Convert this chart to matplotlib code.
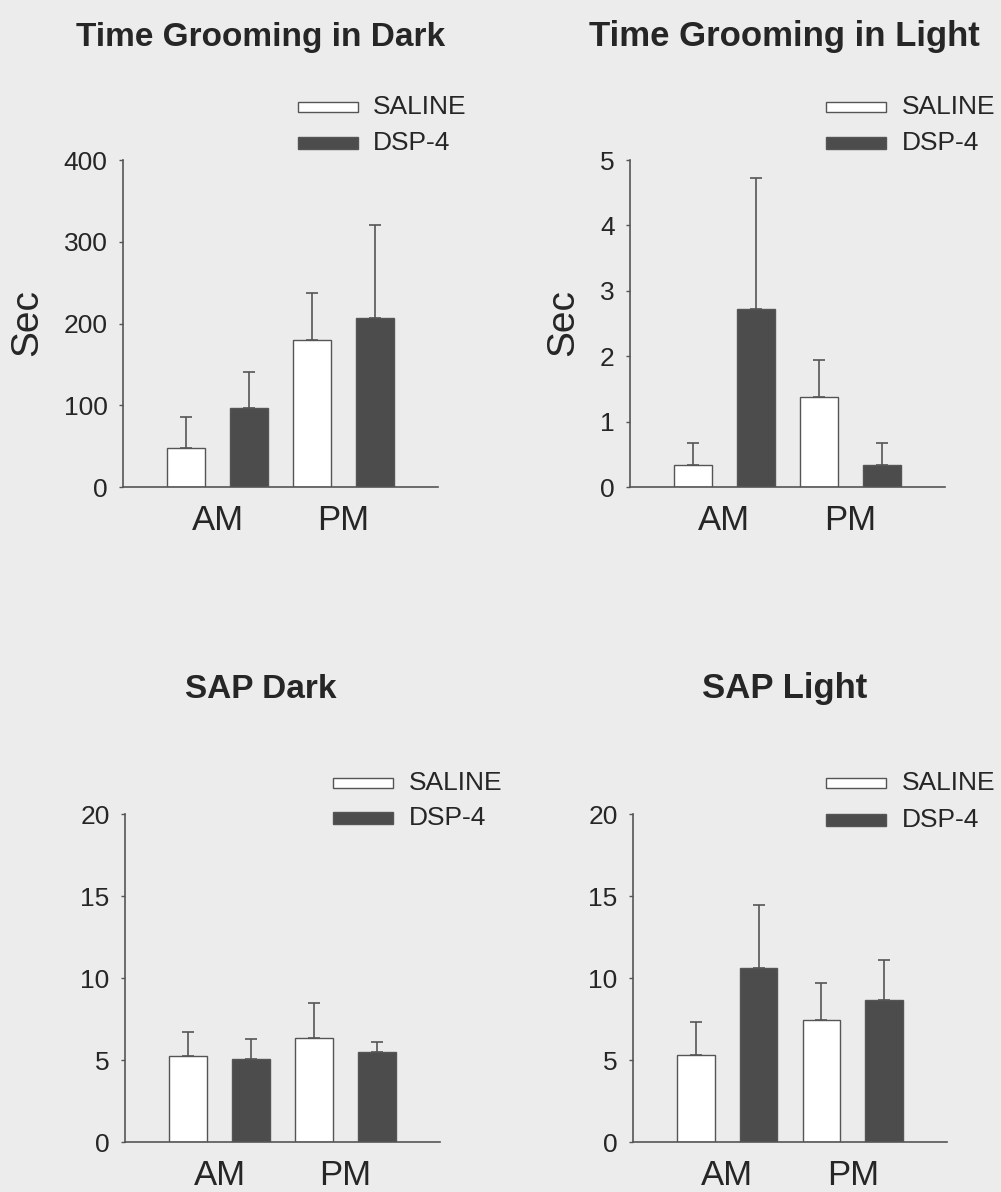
import matplotlib
matplotlib.use("Agg")
import matplotlib.pyplot as plt
from matplotlib.patches import Rectangle

plt.rcParams['font.family'] = ['Liberation Sans', 'DejaVu Sans']

# ---- data ----
groups = ["AM", "PM"]
series = ["SALINE", "DSP-4"]

titles = ["Time Grooming in Dark", "Time Grooming in Light", "SAP Dark", "SAP Light"]

# mean values: [saline AM, DSP-4 AM, saline PM, DSP-4 PM]
groom_dark_mean = [48, 97, 180, 207]
groom_dark_err = [38, 44, 57, 113]
groom_light_mean = [0.33, 2.72, 1.38, 0.33]
groom_light_err = [0.34, 2.01, 0.56, 0.34]
sap_dark_mean = [5.25, 5.09, 6.37, 5.49]
sap_dark_err = [1.47, 1.18, 2.12, 0.61]
sap_light_mean = [5.28, 10.61, 7.46, 8.63]
sap_light_err = [2.01, 3.82, 2.24, 2.44]

y_max = [400, 5, 20, 20]
y_ticks = [[0, 100, 200, 300, 400], [0, 1, 2, 3, 4, 5],
           [0, 5, 10, 15, 20], [0, 5, 10, 15, 20]]
y_labels = ["Sec", "Sec", None, None]

means = [groom_dark_mean, groom_light_mean, sap_dark_mean, sap_light_mean]
errs = [groom_dark_err, groom_light_err, sap_dark_err, sap_light_err]

# ---- style ----
W, H = 1001, 1192
BG = "#ececec"
DARK = "#4c4c4c"
LINE = "#555555"
TEXT = "#262626"

fig = plt.figure(figsize=(W / 100, H / 100), dpi=100, facecolor=BG)


def fx(px):
    return px / W


def fy(py):
    return 1 - py / H


# axes boxes in pixels: left, right, top, bottom
boxes = [(123, 438, 160, 487), (630, 945, 160, 487),
         (125, 440, 814, 1142), (633, 947, 814, 1142)]
title_pos = [(261, 46), (784, 46), (261, 698), (785, 698)]
title_size = [24, 25, 24, 25]
ylabel_pos = [(27, 323), (563, 323), None, None]
legend_pos = [(298, 373, 107, 143), (826, 902, 107, 143),
              (333, 409, 783, 818), (826, 902, 783, 820)]

bar_x = [1, 2, 3, 4]
bar_colors = ["white", DARK, "white", DARK]
group_x = [1.5, 3.5]

for i in range(4):
    l, r, t, b = boxes[i]
    ax = fig.add_axes([fx(l), fy(b), fx(r - l), (b - t) / H])
    ax.set_facecolor("none")
    ax.bar(bar_x, means[i], width=0.6, color=bar_colors,
           edgecolor=LINE, linewidth=1.0, zorder=2)
    ax.errorbar(bar_x, means[i], yerr=[[0] * 4, errs[i]], fmt="none",
                ecolor=LINE, elinewidth=1.2, capsize=4, capthick=1.2, zorder=1)
    ax.set_xlim(0, 5)
    ax.set_ylim(0, y_max[i])
    ax.set_yticks(y_ticks[i])
    ax.set_xticks(group_x)
    ax.set_xticklabels(groups, fontsize=25, color=TEXT)
    ax.tick_params(axis="x", length=0, pad=12)
    ax.tick_params(axis="y", length=3, width=1, color=LINE, pad=8,
                   labelsize=19, labelcolor=TEXT)
    for s in ["top", "right"]:
        ax.spines[s].set_visible(False)
    for s in ["left", "bottom"]:
        ax.spines[s].set_color(LINE)
        ax.spines[s].set_linewidth(1.2)

    tx, ty = title_pos[i]
    fig.text(fx(tx), fy(ty), titles[i], fontsize=title_size[i], fontweight="bold",
             color=TEXT, ha="center", va="baseline")

    if ylabel_pos[i] is not None:
        yx, yy = ylabel_pos[i]
        fig.text(fx(yx), fy(yy), y_labels[i], fontsize=28, rotation=90,
                 color=TEXT, ha="center", va="center")

    # legend
    px0, tx0, y1, y2 = legend_pos[i]
    for yc, col, h, name in [(y1, "white", 10, series[0]),
                             (y2, DARK, 12, series[1])]:
        fig.patches.append(Rectangle((fx(px0), fy(yc + h / 2)), fx(60), h / H,
                                     facecolor=col, edgecolor=LINE, linewidth=1.0,
                                     transform=fig.transFigure, figure=fig))
        fig.text(fx(tx0), fy(yc), name, fontsize=19, color=TEXT,
                 ha="left", va="center")

fig.savefig("out.png", dpi=100, facecolor=BG)
